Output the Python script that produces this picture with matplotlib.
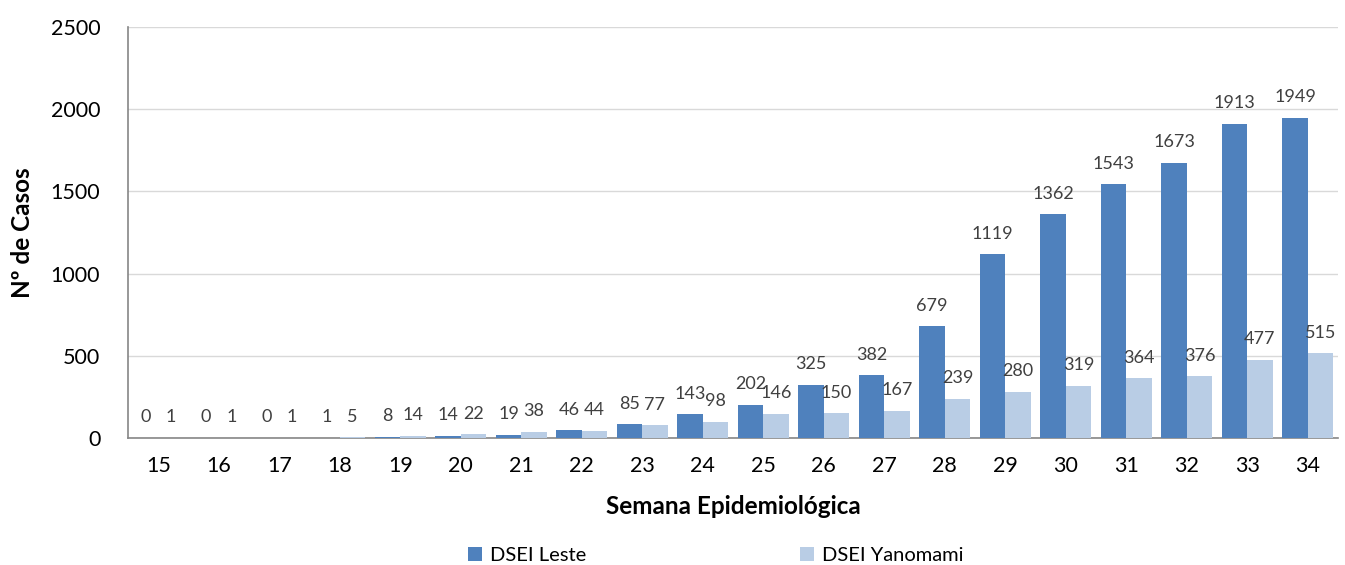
import matplotlib
matplotlib.use("Agg")
import matplotlib.pyplot as plt
import numpy as np

weeks = ["15", "16", "17", "18", "19", "20", "21", "22", "23", "24",
         "25", "26", "27", "28", "29", "30", "31", "32", "33", "34"]
leste = [0, 0, 0, 1, 8, 14, 19, 46, 85, 143, 202, 325, 382, 679, 1119,
         1362, 1543, 1673, 1913, 1949]
yanomami = [1, 1, 1, 5, 14, 22, 38, 44, 77, 98, 146, 150, 167, 239, 280,
            319, 364, 376, 477, 515]

plt.rcParams['font.family'] = ['Lato', 'DejaVu Sans']

fig = plt.figure(figsize=(13.45, 5.65), dpi=100)
ax = fig.add_axes([0.0952, 0.2248, 0.8996, 0.7274])

x = np.arange(len(weeks))
w = 0.42
c1 = "#4F81BD"
c2 = "#B9CDE5"
b1 = ax.bar(x - w / 2, leste, w, color=c1, label="DSEI Leste", zorder=3)
b2 = ax.bar(x + w / 2, yanomami, w, color=c2, label="DSEI Yanomami", zorder=3)

for bars, vals in ((b1, leste), (b2, yanomami)):
    for r, v in zip(bars, vals):
        ax.annotate(str(v), (r.get_x() + r.get_width() / 2, v),
                    xytext=(0, 9), textcoords="offset points",
                    ha="center", va="bottom", fontsize=13, color="#404040")

ax.set_xlim(-0.5, len(weeks) - 0.5)
ax.set_ylim(0, 2500)
ax.set_yticks([0, 500, 1000, 1500, 2000, 2500])
ax.set_xticks(x)
ax.set_xticklabels(weeks)
ax.tick_params(axis="both", length=0, labelsize=15.5, colors="black")
ax.tick_params(axis="x", pad=13)
ax.tick_params(axis="y", pad=20)
ax.grid(axis="y", color="#D9D9D9", linewidth=1, zorder=0)
for s in ("top", "right"):
    ax.spines[s].set_visible(False)
for s in ("left", "bottom"):
    ax.spines[s].set_color("#868686")
    ax.spines[s].set_linewidth(1.2)

ax.set_xlabel("Semana Epidemiológica", fontsize=17.5, fontweight="bold", labelpad=14)
ax.set_ylabel("Nº de Casos", fontsize=17.5, fontweight="bold", labelpad=12)

fig.legend(handles=[b1, b2], loc="lower center", bbox_to_anchor=(0.532, -0.03),
           ncol=2, frameon=False, fontsize=14.5, handlelength=0.7, handleheight=0.7,
           handletextpad=0.4, columnspacing=10.6)

fig.savefig("out.png", dpi=100)
